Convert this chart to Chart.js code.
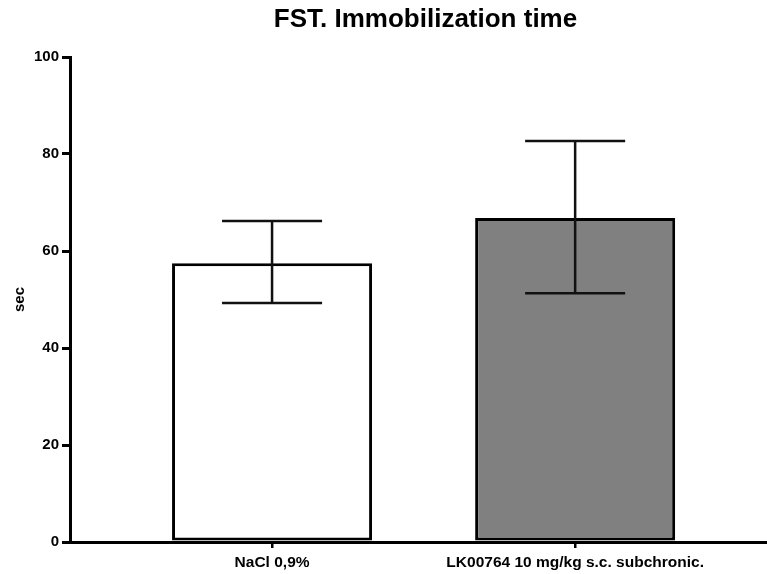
<!DOCTYPE html>
<html>
<head>
<meta charset="utf-8">
<script src="https://cdn.jsdelivr.net/npm/chart.js@4/dist/chart.umd.min.js"></script>
<style>
  html, body { margin: 0; padding: 0; background: #ffffff; }
  #wrap { width: 767px; height: 574px; }
</style>
</head>
<body>
<div id="wrap"><canvas id="chart" width="767" height="574"></canvas></div>
<script>
// Groups and their summary values (mean with spread)
const groups = ['NaCl 0,9%', 'LK00764 10 mg/kg s.c. subchronic.'];
const groupPositions = [1, 2];
const meanValues = [57.5, 66.8];
const errorLow = [49.3, 51.3];
const errorHigh = [66.2, 82.7];
const yTicks = [0, 20, 40, 60, 80, 100];
const barFills = ['#ffffff', '#808080'];
const chartTitle = 'FST. Immobilization time';

const FONT = "'Liberation Sans', Arial, Helvetica, sans-serif";

// Error bars drawn over the bars, with caps half the bar width
const errorBarPlugin = {
  id: 'errorBars',
  afterDatasetsDraw(chart) {
    const ctx = chart.ctx;
    const yScale = chart.scales.y;
    const meta = chart.getDatasetMeta(0);
    ctx.save();
    ctx.strokeStyle = '#111111';
    ctx.lineWidth = 2.5;
    meta.data.forEach((bar, i) => {
      const x = bar.x;
      const capHalf = bar.width / 4;
      const yLo = yScale.getPixelForValue(errorLow[i]);
      const yHi = yScale.getPixelForValue(errorHigh[i]);
      ctx.beginPath();
      ctx.moveTo(x, yLo);
      ctx.lineTo(x, yHi);
      ctx.moveTo(x - capHalf, yHi);
      ctx.lineTo(x + capHalf, yHi);
      ctx.moveTo(x - capHalf, yLo);
      ctx.lineTo(x + capHalf, yLo);
      ctx.stroke();
    });
    ctx.restore();
  }
};

// Heading centred a little right of the plot's middle, in the top margin
const headingPlugin = {
  id: 'heading',
  afterDraw(chart) {
    const ctx = chart.ctx;
    const area = chart.chartArea;
    ctx.save();
    ctx.fillStyle = '#000000';
    ctx.font = "bold 26px " + FONT;
    ctx.textAlign = 'center';
    ctx.textBaseline = 'middle';
    ctx.fillText(chartTitle, (area.left + area.right) / 2 + 7, 20);
    ctx.restore();
  }
};

new Chart(document.getElementById('chart'), {
  type: 'bar',
  data: {
    datasets: [{
      data: groupPositions.map((p, i) => ({ x: p, y: meanValues[i] })),
      backgroundColor: barFills,
      borderColor: '#000000',
      borderWidth: 3,
      borderSkipped: false,
      barPercentage: 0.66,
      categoryPercentage: 1
    }]
  },
  options: {
    responsive: false,
    animation: false,
    layout: { padding: { top: 57, left: 0, right: 0, bottom: 0 } },
    plugins: {
      legend: { display: false },
      tooltip: { enabled: false },
      title: { display: false }
    },
    scales: {
      x: {
        type: 'linear',
        offset: false,
        min: 1 / 3,
        max: 2.633,
        afterBuildTicks(scale) {
          scale.ticks = groupPositions.map(v => ({ value: v }));
        },
        afterFit(scale) { scale.height = 32; },
        ticks: {
          autoSkip: false,
          maxRotation: 0,
          color: '#000000',
          padding: 5,
          font: { family: FONT, size: 15.5, weight: 'bold' },
          callback(value) {
            const i = groupPositions.indexOf(value);
            return i >= 0 ? groups[i] : '';
          }
        },
        grid: {
          offset: false,
          drawOnChartArea: false,
          drawTicks: true,
          tickLength: 6,
          lineWidth: 2.5,
          color: '#000000'
        },
        border: { display: true, width: 3, color: '#000000' }
      },
      y: {
        min: 0,
        max: 100,
        afterBuildTicks(scale) {
          scale.ticks = yTicks.map(v => ({ value: v }));
        },
        afterFit(scale) { scale.width = 70; },
        title: {
          display: true,
          text: 'sec',
          color: '#000000',
          font: { family: FONT, size: 15, weight: 'bold' },
          padding: { top: 11, bottom: 0 }
        },
        ticks: {
          color: '#000000',
          padding: 3,
          font: { family: FONT, size: 15, weight: 'bold' }
        },
        grid: {
          drawOnChartArea: false,
          drawTicks: true,
          tickLength: 8,
          lineWidth: 3,
          color: '#000000'
        },
        border: { display: true, width: 3, color: '#000000' }
      }
    }
  },
  plugins: [errorBarPlugin, headingPlugin]
});
</script>
</body>
</html>
